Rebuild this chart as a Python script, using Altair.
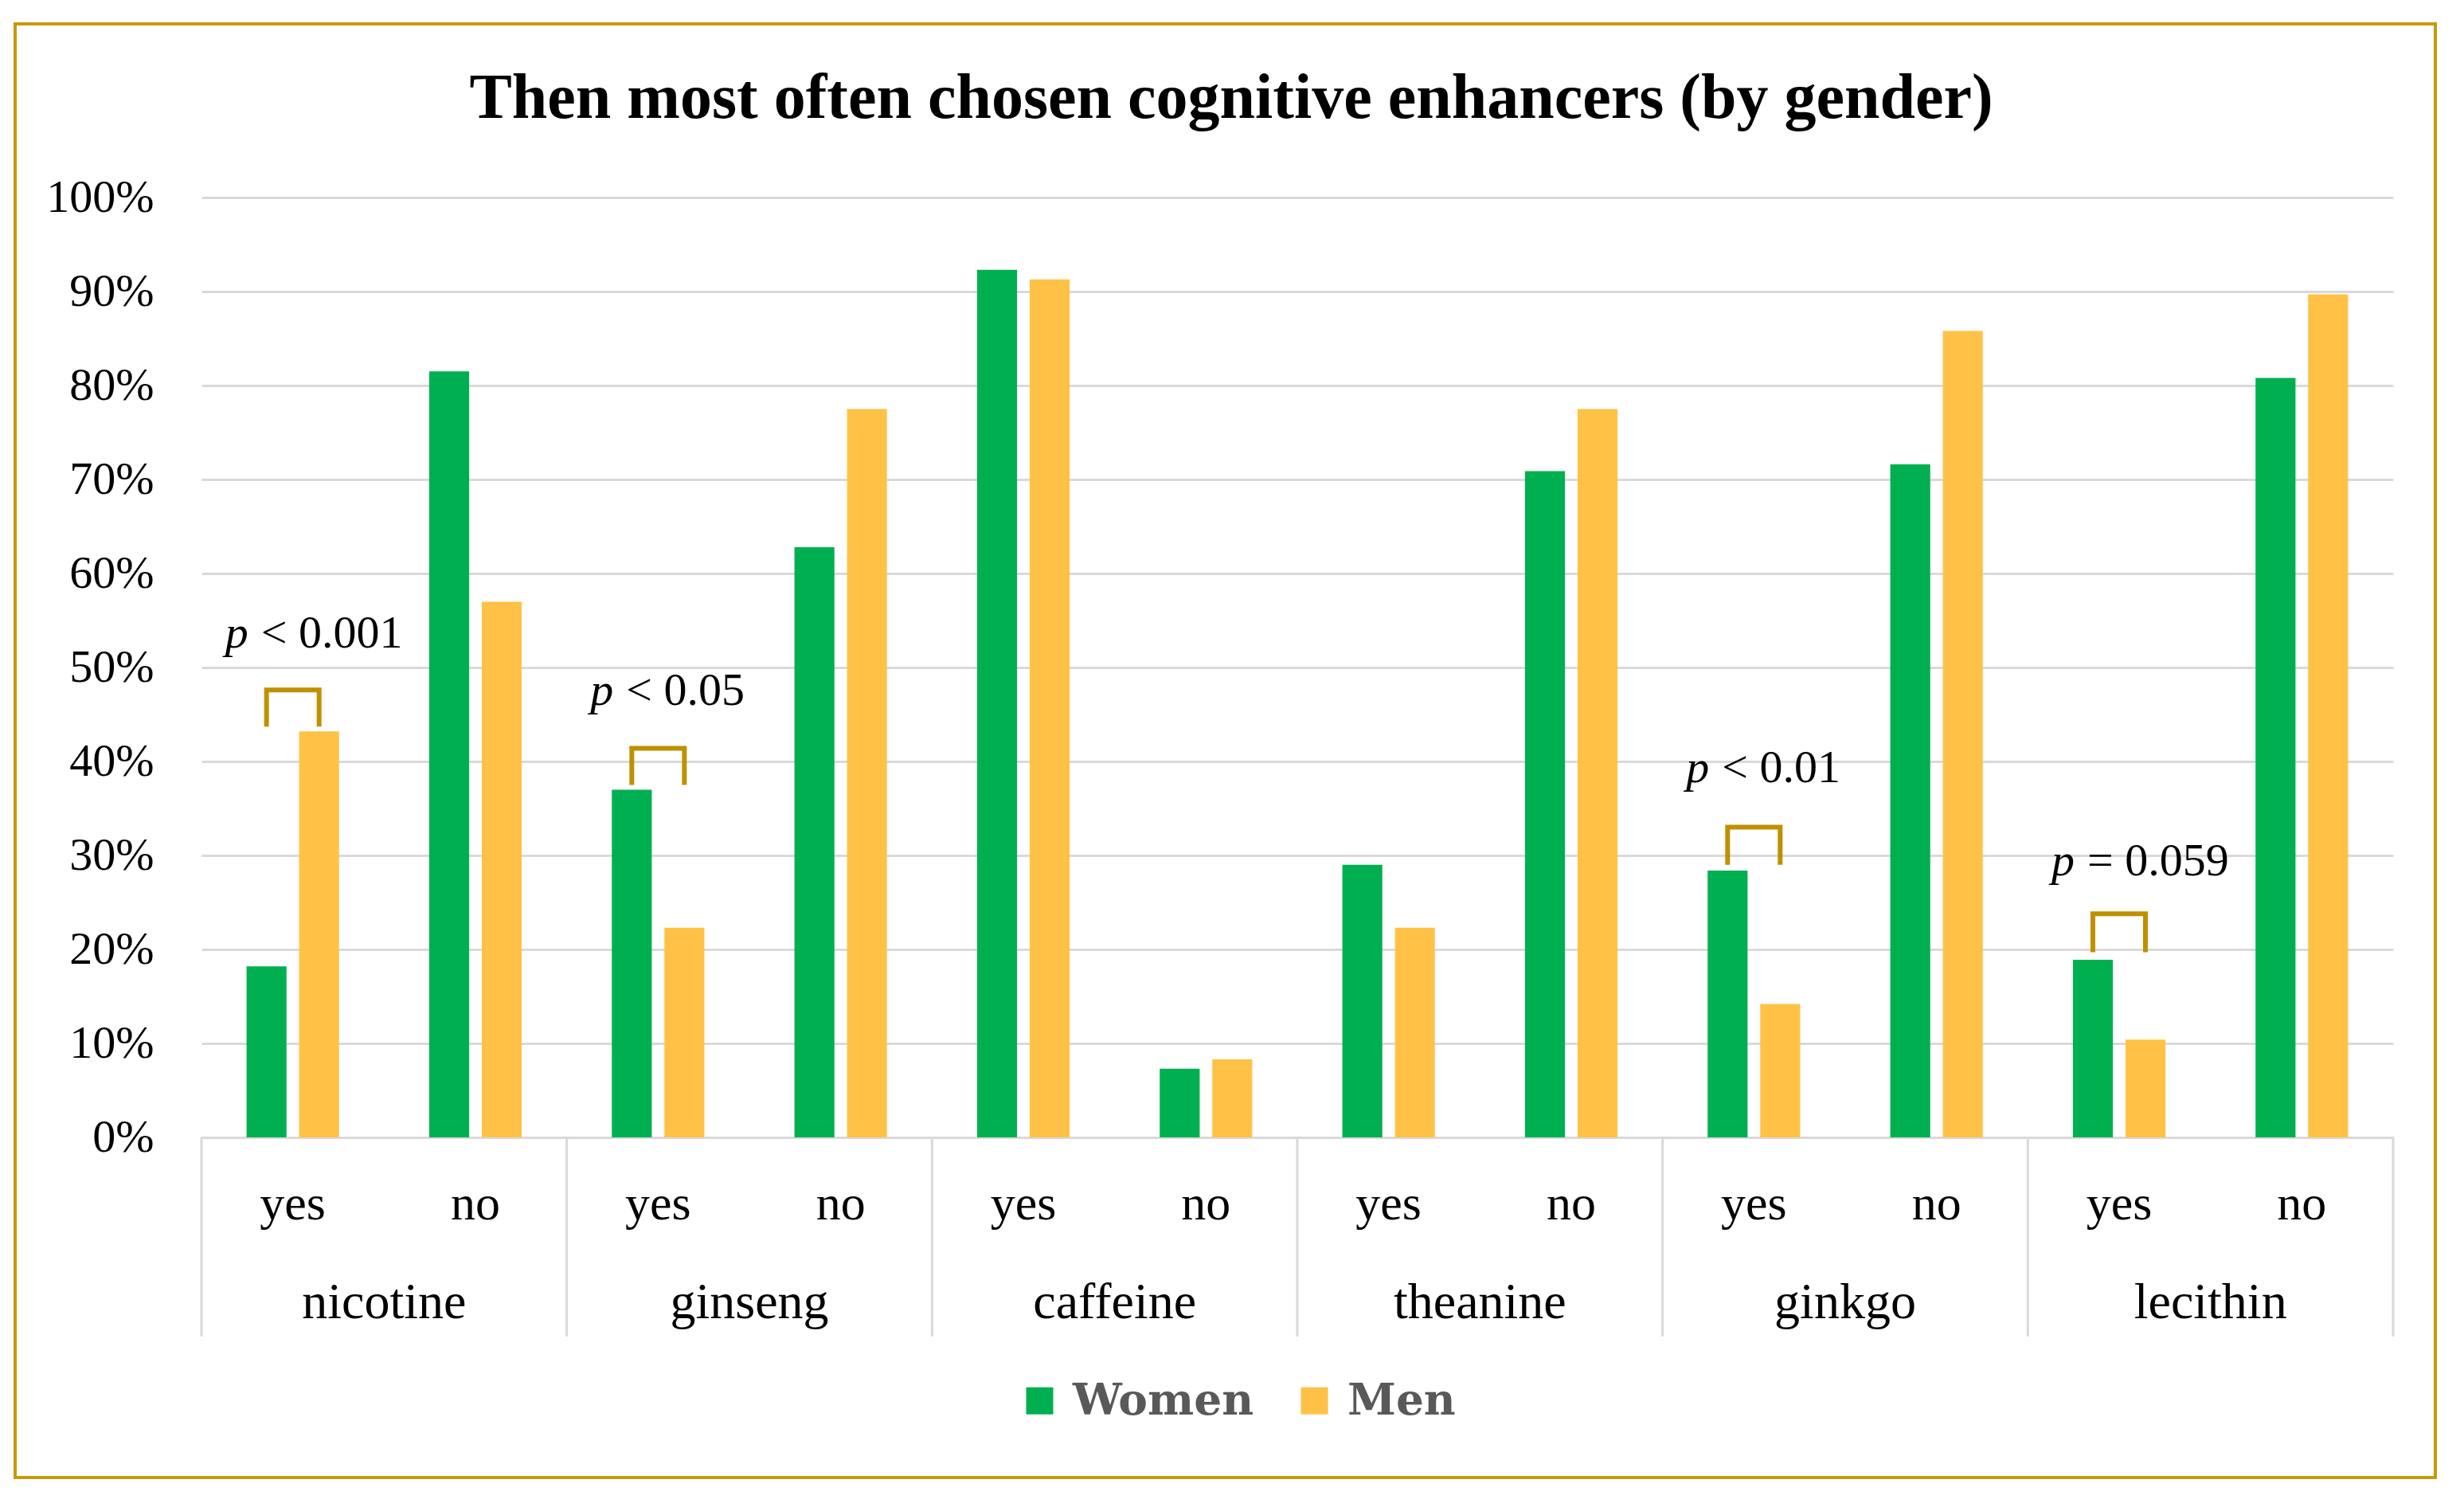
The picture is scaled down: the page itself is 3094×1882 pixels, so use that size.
import altair as alt
import pandas as pd

# ---------------- data ----------------
groups = ["nicotine", "ginseng", "caffeine", "theanine", "ginkgo", "lecithin"]
answers = ["yes", "no"]
genders = ["Women", "Men"]
women = [18.2, 81.5, 37.0, 62.8, 92.3, 7.3, 29.0, 70.9, 28.4, 71.6, 18.9, 80.8]
men = [43.2, 57.0, 22.3, 77.5, 91.3, 8.3, 22.3, 77.5, 14.2, 85.8, 10.4, 89.7]

p_groups = ["nicotine", "ginseng", "ginkgo", "lecithin"]
p_symbols = ["<", "<", "<", "="]
p_values = ["0.001", "0.05", "0.01", "0.059"]
p_label_y = [52.1, 46.0, 37.8, 27.9]
bracket_low = [43.7, 37.5, 29.0, 19.7]
bracket_high = [47.6, 41.4, 33.0, 23.8]

title_text = "Then most often chosen cognitive enhancers (by gender)"

# ---------------- tables ----------------
keys = [f"{g}|{a}" for g in groups for a in answers]
rows = []
for i, k in enumerate(keys):
    rows.append({"key": k, "gender": "Women", "value": women[i]})
    rows.append({"key": k, "gender": "Men", "value": men[i]})
bars_df = pd.DataFrame(rows)

br_rows = []
for g, lo, hi in zip(p_groups, bracket_low, bracket_high):
    k = f"{g}|yes"
    br_rows += [
        {"key": k, "grp": g, "gender": "Women", "value": lo, "o": 0},
        {"key": k, "grp": g, "gender": "Women", "value": hi, "o": 1},
        {"key": k, "grp": g, "gender": "Men", "value": hi, "o": 2},
        {"key": k, "grp": g, "gender": "Men", "value": lo, "o": 3},
    ]
br_df = pd.DataFrame(br_rows)

p_df = pd.DataFrame({
    "key": [f"{g}|yes" for g in p_groups],
    "value": p_label_y,
    "rest": [f"{s} {v}" for s, v in zip(p_symbols, p_values)],
    "p": ["p"] * len(p_groups),
})

grp_df = pd.DataFrame({"key": [f"{g}|yes" for g in groups], "grp": groups})
last_df = pd.DataFrame({"key": [f"{groups[-1]}|no"]})
frame_df = pd.DataFrame({"frame": [1]})

# ---------------- styles ----------------
GREEN = "#00B050"
YELLOW = "#FFC246"
GOLD = "#BF9000"
BORDER = "#C69A08"
GRID = "#D9D9D9"
SERIF = "Liberation Serif"

W, H = 2752, 1180

x_scale = alt.Scale(domain=keys, paddingInner=0, paddingOuter=0)
x_axis = alt.Axis(
    title=None, labelExpr="split(datum.value, '|')[1]", labelFont=SERIF,
    labelFontSize=62, labelColor="black", labelAngle=0, labelBaseline="alphabetic",
    labelPadding=102, ticks=False, tickSize=0, domainColor=GRID, domainWidth=3,
    grid=False,
)
xo_scale = alt.Scale(domain=genders, paddingInner=0.24, paddingOuter=0.857)
y_scale = alt.Scale(domain=[0, 100])
y_axis = alt.Axis(
    title=None, values=list(range(0, 101, 10)), labelExpr="datum.value + '%'",
    labelFont=SERIF, labelFontSize=58, labelColor="black", labelPadding=60,
    grid=True, gridColor=GRID, gridWidth=3, domain=False, ticks=False,
)

bars = alt.Chart(bars_df).mark_bar().encode(
    x=alt.X("key:N", scale=x_scale, axis=x_axis, sort=keys),
    xOffset=alt.XOffset("gender:N", scale=xo_scale, sort=genders),
    y=alt.Y("value:Q", scale=y_scale, axis=y_axis),
    color=alt.Color(
        "gender:N",
        scale=alt.Scale(domain=genders, range=[GREEN, YELLOW]),
        legend=alt.Legend(
            title=None, orient="none", legendX=1025, legendY=1483,
            direction="horizontal", symbolType="square", symbolSize=1156,
            symbolStrokeWidth=0, symbolOpacity=1, labelFont="DejaVu Serif",
            labelFontSize=55, labelFontWeight="bold", labelColor="#595959",
            labelOffset=14, columnPadding=48, labelLimit=0,
        ),
    ),
)

brackets = alt.Chart(br_df).mark_line(color=GOLD, strokeWidth=6, strokeCap="butt", strokeJoin="miter").encode(
    x=alt.X("key:N", scale=x_scale, sort=keys),
    xOffset=alt.XOffset("gender:N", scale=xo_scale, sort=genders),
    y=alt.Y("value:Q", scale=y_scale),
    detail="grp:N",
    order="o:Q",
)

p_italic = alt.Chart(p_df).mark_text(
    font=SERIF, fontSize=58, fontStyle="italic", align="right", baseline="alphabetic",
    dx=-56, color="black",
).encode(
    x=alt.X("key:N", scale=x_scale, sort=keys),
    y=alt.Y("value:Q", scale=y_scale),
    text="p:N",
)

p_rest = alt.Chart(p_df).mark_text(
    font=SERIF, fontSize=58, align="left", baseline="alphabetic", dx=-40, color="black",
).encode(
    x=alt.X("key:N", scale=x_scale, sort=keys),
    y=alt.Y("value:Q", scale=y_scale),
    text="rest:N",
)

grp_labels = alt.Chart(grp_df).mark_text(
    font=SERIF, fontSize=64, align="center", baseline="alphabetic", color="black",
).encode(
    x=alt.X("key:N", scale=x_scale, sort=keys, bandPosition=1),
    y=alt.value(1407),
    text="grp:N",
)

seps = alt.Chart(grp_df).mark_rule(color=GRID, strokeWidth=3).encode(
    x=alt.X("key:N", scale=x_scale, sort=keys, bandPosition=0),
    y=alt.value(H),
    y2=alt.value(H + 250),
)
sep_last = alt.Chart(last_df).mark_rule(color=GRID, strokeWidth=3).encode(
    x=alt.X("key:N", scale=x_scale, sort=keys, bandPosition=1),
    y=alt.value(H),
    y2=alt.value(H + 250),
)

title = alt.Chart(frame_df).mark_text(
    font=SERIF, fontSize=80, fontWeight="bold", align="center", baseline="alphabetic",
    color="black",
).encode(
    x=alt.value(1293), y=alt.value(-100), text=alt.value(title_text),
)

frame = alt.Chart(frame_df).mark_rect(fill=None, stroke=BORDER, strokeWidth=4).encode(
    x=alt.value(-234), x2=alt.value(2805), y=alt.value(-218), y2=alt.value(1607),
)

chart = alt.layer(
    frame, bars, seps, sep_last, grp_labels, brackets, p_italic, p_rest, title
).properties(
    width=W, height=H,
    padding={"left": 9, "top": 20, "right": 10, "bottom": 10},
    background="white",
).configure_view(stroke=None)

chart.save("out.html", embed_options={"renderer": "svg", "actions": False})
